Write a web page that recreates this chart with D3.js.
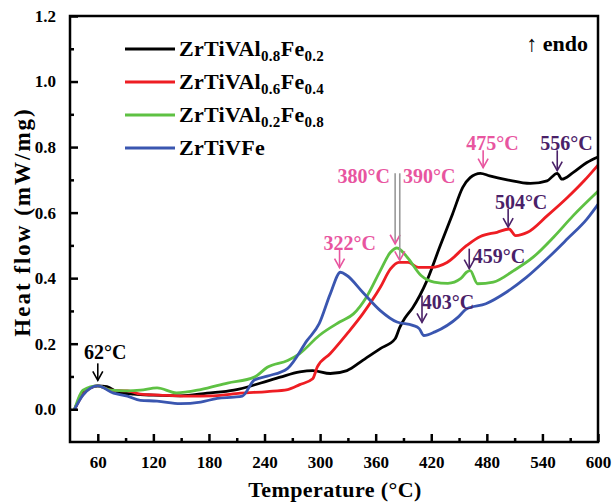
<!DOCTYPE html>
<html>
<head>
<meta charset="utf-8">
<script src="https://cdn.jsdelivr.net/npm/d3@7"></script>
<style>
  body { margin: 0; background: #fff; }
  svg text { font-family: "Liberation Serif", "Times New Roman", serif; }
</style>
</head>
<body>
<div id="chart"></div>
<script>
// DSC curves: [temperature (°C), heat flow (mW/mg)]
var black = [[35,0],[44,0.049],[60,0.071],[70,0.069],[81,0.053],[99,0.046],[120,0.043],[149,0.041],[178,0.049],[207,0.058],[236,0.08],[257,0.098],[278,0.114],[292,0.118],[311,0.109],[329,0.118],[346,0.149],[365,0.185],[381,0.215],[386,0.25],[392,0.28],[400,0.31],[415,0.39],[429,0.494],[443,0.596],[454,0.677],[462,0.707],[473,0.72],[483,0.712],[502,0.70],[527,0.689],[545,0.697],[556,0.72],[561,0.702],[573,0.722],[588,0.753],[600,0.77]];
var red = [[35,0],[44,0.045],[60,0.071],[74,0.058],[92,0.056],[106,0.046],[127,0.043],[156,0.04],[185,0.041],[214,0.049],[243,0.054],[265,0.06],[278,0.075],[292,0.093],[297,0.129],[311,0.17],[329,0.23],[346,0.291],[365,0.372],[376,0.428],[385,0.448],[395,0.448],[406,0.433],[420,0.433],[437,0.448],[458,0.499],[473,0.527],[491,0.54],[504,0.55],[511,0.53],[524,0.54],[545,0.59],[567,0.646],[585,0.697],[600,0.745]];
var green = [[35,0],[44,0.058],[60,0.071],[74,0.058],[92,0.056],[106,0.058],[124,0.065],[145,0.05],[171,0.06],[200,0.08],[229,0.098],[243,0.128],[265,0.149],[278,0.17],[299,0.225],[321,0.266],[336,0.291],[350,0.342],[365,0.423],[376,0.479],[383,0.492],[394,0.464],[409,0.408],[423,0.388],[438,0.384],[452,0.399],[458,0.418],[462,0.423],[470,0.383],[487,0.388],[509,0.423],[530,0.464],[552,0.525],[573,0.59],[600,0.665]];
var blue = [[35,0],[44,0.043],[60,0.071],[77,0.049],[92,0.04],[106,0.027],[124,0.025],[149,0.017],[171,0.022],[189,0.033],[207,0.037],[216,0.04],[229,0.089],[243,0.101],[265,0.125],[286,0.21],[299,0.261],[311,0.352],[322,0.418],[329,0.408],[346,0.357],[365,0.301],[383,0.266],[400,0.256],[407,0.246],[412,0.225],[424,0.236],[449,0.281],[458,0.306],[479,0.322],[501,0.357],[523,0.403],[545,0.459],[567,0.52],[588,0.58],[600,0.625]];

var seriesData = [black, red, green, blue];
var seriesColors = ["#000000", "#ee1d23", "#5ec143", "#3a56b0"];
// legend names: [base, sub1, mid, sub2]
var seriesNames = [["ZrTiVAl","0.8","Fe","0.2"],["ZrTiVAl","0.6","Fe","0.4"],["ZrTiVAl","0.2","Fe","0.8"],["ZrTiVFe","","",""]];

var xTicks = [60,120,180,240,300,360,420,480,540,600];
var yTicks = [0.0,0.2,0.4,0.6,0.8,1.0,1.2];

// peak annotations: text, arrow temperature, arrow tip / tail value, label centre (data units)
var pink = "#e8559f", purple = "#4a2168";
var notes = [
  {text:"62°C",  t:60,  tip:0.088, tail:0.14, lx:68,  ly:0.174, color:"#000"},
  {text:"322°C", t:321, tip:0.432, tail:0.49, lx:332, ly:0.508, color:pink},
  {text:"475°C", t:476, tip:0.737, tail:0.79, lx:486, ly:0.813, color:pink},
  {text:"556°C", t:556, tip:0.728, tail:0.79, lx:566, ly:0.813, color:purple},
  {text:"504°C", t:503, tip:0.556, tail:0.612, lx:517, ly:0.633, color:purple},
  {text:"459°C", t:461, tip:0.429, tail:0.49, lx:493, ly:0.468, color:purple},
  {text:"403°C", t:410, tip:0.265, tail:0.347, lx:438, ly:0.328, color:purple}
];

var W = 613, H = 504;
var margin = {top: 16, right: 15, bottom: 62, left: 70},
    width = W - margin.left - margin.right,
    height = H - margin.top - margin.bottom;

var svg = d3.select("#chart").append("svg")
    .attr("width", W).attr("height", H);
var g = svg.append("g")
    .attr("transform", "translate(" + margin.left + "," + margin.top + ")");

var x = d3.scaleLinear().domain([30, 600]).range([0, width]);
var y = d3.scaleLinear().domain([-0.1, 1.2]).range([height, 0]);

// curves
var line = d3.line()
    .x(function(d) { return x(d[0]); })
    .y(function(d) { return y(d[1]); })
    .curve(d3.curveMonotoneX);

seriesData.forEach(function(s, i) {
  g.append("path")
    .datum(s)
    .attr("fill", "none")
    .attr("stroke", seriesColors[i])
    .attr("stroke-width", 2.8)
    .attr("stroke-linejoin", "round")
    .attr("d", line);
});

// axes, ticks pointing inward
g.append("g")
    .attr("transform", "translate(0," + height + ")")
    .call(d3.axisBottom(x).tickValues(xTicks).tickSize(-8).tickPadding(14).tickFormat(d3.format("d")));
g.append("g")
    .attr("transform", "translate(0," + height + ")")
    .call(d3.axisBottom(x).tickValues(xTicks.map(function(v) { return v - 30; }).filter(function(v) { return v > 30; })).tickSize(-4).tickFormat(""));
var yAxis = g.append("g")
    .call(d3.axisLeft(y).tickValues(yTicks).tickSize(-8).tickPadding(14).tickFormat(d3.format(".1f")));
g.append("g")
    .call(d3.axisLeft(y).tickValues(yTicks.slice(0, -1).map(function(v) { return v + 0.1; })).tickSize(-4).tickFormat(""));

g.selectAll(".domain").remove();
g.selectAll(".tick line").attr("stroke", "#000").attr("stroke-width", 2.5);
g.selectAll(".tick text")
    .attr("font-size", 17).attr("font-weight", "bold").attr("fill", "#000")
    .attr("font-family", "Liberation Serif, serif");
yAxis.selectAll(".tick text").attr("dy", "0.32em");

// frame
g.append("rect")
    .attr("width", width).attr("height", height)
    .attr("fill", "none").attr("stroke", "#000").attr("stroke-width", 2.5);

// axis titles
svg.append("text")
    .attr("x", 335).attr("y", 497)
    .attr("text-anchor", "middle").attr("font-size", 22).attr("font-weight", "bold")
    .attr("letter-spacing", 0.4)
    .text("Temperature (°C)");
svg.append("text")
    .attr("transform", "translate(30,222) rotate(-90)")
    .attr("text-anchor", "middle").attr("font-size", 23).attr("font-weight", "bold")
    .attr("letter-spacing", 2)
    .text("Heat flow (mW/mg)");

// legend
var legend = g.append("g").attr("transform", "translate(55,33)");
seriesNames.forEach(function(n, i) {
  var row = legend.append("g").attr("transform", "translate(0," + (i * 33) + ")");
  row.append("line").attr("x1", 0).attr("x2", 50).attr("y1", 0).attr("y2", 0)
    .attr("stroke", seriesColors[i]).attr("stroke-width", 2.8);
  var t = row.append("text").attr("x", 54).attr("y", 7)
    .attr("font-size", 22).attr("font-weight", "bold").attr("letter-spacing", 0.3);
  t.append("tspan").text(n[0]);
  if (n[1]) {
    t.append("tspan").attr("font-size", 15).attr("dy", 5).text(n[1]);
    t.append("tspan").attr("dy", -5).text(n[2]);
    t.append("tspan").attr("font-size", 15).attr("dy", 5).text(n[3]);
  }
});

svg.append("text")
    .attr("x", 588).attr("y", 51).attr("text-anchor", "end")
    .attr("font-size", 22).attr("font-weight", "bold")
    .text("↑ endo");

// arrows with open heads
function arrow(t, v0, v1, color, stroke) {
  var px = x(t), y0 = y(v0), y1 = y(v1);
  g.append("line").attr("x1", px).attr("x2", px).attr("y1", y0).attr("y2", y1)
    .attr("stroke", stroke || color).attr("stroke-width", 1.6);
  g.append("path")
    .attr("d", "M" + (px - 5) + "," + (y1 - 9) + "L" + px + "," + y1 + "L" + (px + 5) + "," + (y1 - 9))
    .attr("fill", "none").attr("stroke", color).attr("stroke-width", 1.6);
}

notes.forEach(function(n) {
  arrow(n.t, n.tail, n.tip, n.color);
  g.append("text")
    .attr("x", x(n.lx)).attr("y", y(n.ly))
    .attr("dy", "0.35em").attr("text-anchor", "middle")
    .attr("font-size", 20).attr("font-weight", "bold").attr("fill", n.color)
    .text(n.text);
});

// the two long arrows for 380 / 390 °C
arrow(381, 0.72, 0.505, pink, "#999");
arrow(386, 0.72, 0.454, pink, "#999");
g.append("text").attr("x", x(375.5)).attr("y", y(0.711)).attr("dy", "0.35em")
  .attr("text-anchor", "end").attr("font-size", 20).attr("font-weight", "bold").attr("fill", pink).text("380°C");
g.append("text").attr("x", x(389.5)).attr("y", y(0.711)).attr("dy", "0.35em")
  .attr("text-anchor", "start").attr("font-size", 20).attr("font-weight", "bold").attr("fill", pink).text("390°C");
</script>
</body>
</html>
